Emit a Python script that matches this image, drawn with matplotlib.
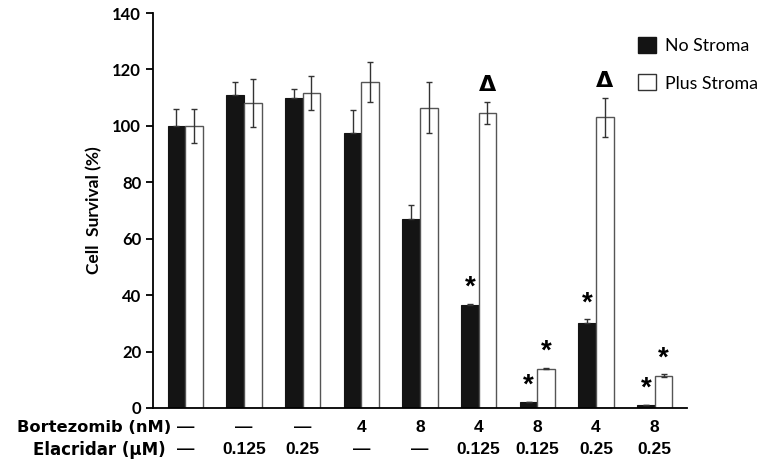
import matplotlib
matplotlib.use("Agg")
from matplotlib import pyplot as plt
from matplotlib.patches import Patch
import matplotlib.transforms as mtransforms
import numpy as np

# data
bortezomib = ["\u2014", "\u2014", "\u2014", "4", "8", "4", "8", "4", "8"]
elacridar = ["\u2014", "0.125", "0.25", "\u2014", "\u2014", "0.125", "0.125", "0.25", "0.25"]
no_stroma = [100, 111, 110, 97.5, 67, 36.5, 2, 30, 1]
no_stroma_err = [6, 4.5, 3, 8, 5, 0.5, 0.3, 1.5, 0.2]
plus_stroma = [100, 108, 111.5, 115.5, 106.5, 104.5, 14, 103, 11.5]
plus_stroma_err = [6, 8.5, 6, 7, 9, 4, 0.3, 7, 0.5]
star_black = [False, False, False, False, False, True, True, True, True]
star_white = [False, False, False, False, False, False, True, False, True]
delta_white = [False, False, False, False, False, True, False, True, False]

fig = plt.figure(figsize=(7.62, 4.66), dpi=100)
ax = fig.add_axes([153/762, 1-408/466, (687-153)/762, (408-13)/466])

x = np.arange(len(no_stroma))
w = 0.3
ekw = dict(ecolor="#333333", elinewidth=1, capsize=2.5, capthick=1)
# lower half of the black bars' error bars is hidden inside the bar
ax.bar(x - w/2, no_stroma, w, color="#141414", edgecolor="#141414", linewidth=0.8,
       yerr=[np.zeros(len(x)), no_stroma_err], error_kw=ekw)
ax.bar(x + w/2, plus_stroma, w, color="white", edgecolor="#555555", linewidth=1,
       yerr=plus_stroma_err, error_kw=ekw)

for i in x:
    if star_black[i]:
        ax.text(i - w/2, no_stroma[i] + no_stroma_err[i] + 1, "*", ha="center", va="bottom",
                fontsize=20, fontweight="bold", family="Liberation Sans")
    if star_white[i]:
        ax.text(i + w/2, plus_stroma[i] + plus_stroma_err[i] + 1, "*", ha="center", va="bottom",
                fontsize=20, fontweight="bold", family="Liberation Sans")
    if delta_white[i]:
        ax.text(i + w/2, plus_stroma[i] + plus_stroma_err[i] + 2.5, "\u0394", ha="center", va="bottom",
                fontsize=16, fontweight="bold", family="DejaVu Sans")

ax.set_xlim(-0.55, 8.55)
ax.set_ylim(0, 140)
ax.set_yticks(range(0, 141, 20))
ax.set_xticks([])
ax.spines["top"].set_visible(False)
ax.spines["right"].set_visible(False)
ax.spines["left"].set_linewidth(1.3)
ax.spines["bottom"].set_linewidth(1.3)
ax.tick_params(axis="y", direction="out", length=5, width=1.3)
for lab in ax.get_yticklabels():
    lab.set_fontweight("bold")
    lab.set_fontsize(12)
    lab.set_family("Lato")
ax.set_ylabel("Cell  Survival (%)", fontsize=12.5, fontweight="bold", family="Lato", labelpad=7)

# treatment rows under the axis
tr = mtransforms.blended_transform_factory(ax.transData, fig.transFigure)
for i in x:
    ax.text(i, 1-427/466, bortezomib[i], transform=tr, ha="center", va="center",
            fontsize=12.5, fontweight="bold", family="Liberation Sans")
    ax.text(i, 1-450/466, elacridar[i], transform=tr, ha="center", va="center",
            fontsize=12.5, fontweight="bold", family="Liberation Sans")
fig.text(171/762, 1-427/466, "Bortezomib (nM)", ha="right", va="center",
         fontsize=11.7, fontweight="bold", family="DejaVu Sans")
fig.text(166/762, 1-450/466, "Elacridar (\u00b5M)", ha="right", va="center",
         fontsize=12, fontweight="bold", family="DejaVu Sans")

handles = [Patch(facecolor="#141414", edgecolor="#141414"),
           Patch(facecolor="white", edgecolor="#333333")]
fig.legend(handles, ["No Stroma", "Plus Stroma"], loc="upper left",
           bbox_to_anchor=(622/762, 1-21/466), frameon=False,
           prop=dict(family="Lato", size=12.8), handlelength=1.0, handleheight=1.0,
           handletextpad=0.5, labelspacing=1.15)

fig.savefig("out.png", dpi=100)
